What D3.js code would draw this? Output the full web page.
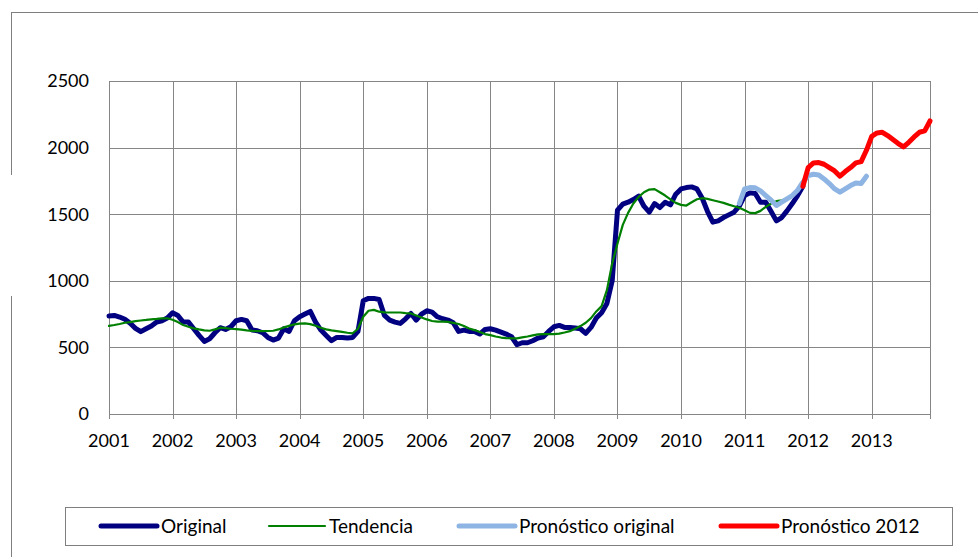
<!DOCTYPE html>
<html>
<head>
<meta charset="utf-8">
<script src="https://cdn.jsdelivr.net/npm/d3@7"></script>
<style>
  body { margin: 0; background: #fff; }
  svg text { font-family: Lato, "Liberation Sans", sans-serif; fill: #000; }
</style>
</head>
<body>
<script>
// year labels on the category axis (one every 12 months)
const years = ["2001", "2002", "2003", "2004", "2005", "2006", "2007", "2008", "2009", "2010", "2011", "2012", "2013"];
const yTicks = [0, 500, 1000, 1500, 2000, 2500];

// monthly values, Jan 2001 .. Dec 2011
const original = [
    736, 740, 728, 711, 681, 643, 618, 640, 660, 690, 700, 720,
    760, 740, 690, 690, 640, 590, 545, 565, 610, 648, 635, 655,
    700, 710, 700, 630, 625, 610, 575, 555, 570, 640, 620, 700,
    730, 750, 770, 690, 630, 590, 550, 575, 575, 570, 575, 620,
    850, 868, 868, 860, 740, 705, 690, 680, 715, 755, 705, 750,
    775, 765, 730, 715, 705, 685, 620, 630, 620, 620, 600, 635,
    640, 630, 615, 600, 580, 520, 535, 535, 550, 570, 580, 620,
    655, 665, 650, 650, 645, 640, 606, 650, 720, 760, 830, 1000,
    1530, 1575, 1590, 1610, 1635, 1560, 1515, 1580, 1550, 1590, 1570, 1650,
    1690, 1700, 1705, 1690, 1620, 1520, 1440, 1450, 1475, 1495, 1515, 1560,
    1640, 1660, 1655, 1590, 1590, 1520, 1450, 1475, 1525, 1580, 1640, 1710
];
const tendencia = [
    661, 668, 676, 685, 690, 697, 702, 706, 711, 714, 718, 719,
    708, 690, 668, 655, 643, 635, 628, 625, 635, 648, 645, 640,
    637, 633, 628, 624, 622, 622, 623, 625, 635, 650, 662, 673,
    678, 680, 675, 663, 648, 635, 628, 622, 616, 610, 606, 640,
    730, 775, 782, 768, 763, 762, 762, 762, 758, 755, 740, 725,
    710, 698, 693, 693, 692, 684, 676, 660, 642, 630, 615, 600,
    592, 582, 574, 570, 568, 568, 575, 582, 590, 598, 600, 600,
    600, 603, 612, 622, 640, 660, 685, 720, 770, 810, 930, 1130,
    1280, 1420, 1510, 1580, 1630, 1665, 1685, 1688, 1665, 1640, 1612, 1585,
    1570, 1565, 1590, 1612, 1620, 1615, 1605, 1595, 1585, 1572, 1560, 1548,
    1530, 1510, 1508, 1525, 1555, 1580, 1598, 1605, 1615, 1640, 1675, 1725
];
// Dec 2010 .. Dec 2012
const pronosticoOriginal = [
    1580, 1690, 1700, 1698, 1675, 1640, 1605, 1565, 1590, 1615, 1640, 1680,
    1740, 1790, 1800, 1795, 1765, 1730, 1690, 1665, 1690, 1715, 1735, 1730, 1785
];
// Dec 2011 .. Dec 2013
const pronostico2012 = [
    1710, 1850, 1885, 1888, 1875, 1850, 1825, 1785, 1820, 1850, 1885, 1895,
    1980, 2085, 2110, 2115, 2090, 2060, 2030, 2005, 2040, 2080, 2115, 2125, 2200
];

const months = [];
years.forEach(y => { for (let m = 1; m <= 12; m++) months.push(y + "-" + String(m).padStart(2, "0")); });

const series = [
    {name: "Original", values: original, start: 0, color: "#000080", width: 5},
    {name: "Tendencia", values: tendencia, start: 0, color: "#008000", width: 2.2},
    {name: "Pronóstico original", values: pronosticoOriginal, start: months.indexOf("2010-12"), color: "#8EB4E3", width: 5},
    {name: "Pronóstico 2012", values: pronostico2012, start: months.indexOf("2011-12"), color: "#FF0000", width: 5}
];

const width = 978, height = 557;
const plot = {left: 109, right: 930, top: 81, bottom: 414};

const svg = d3.select("body").append("svg")
    .attr("width", width)
    .attr("height", height);

const x = d3.scalePoint()
    .domain(months)
    .range([plot.left, plot.right]);

const y = d3.scaleLinear()
    .domain([0, 2500])
    .range([plot.bottom, plot.top]);

// chart frame (only top and left edges are in view)
svg.append("line").attr("x1", 11).attr("x2", width).attr("y1", 12.5).attr("y2", 12.5)
    .attr("stroke", "#7f7f7f");
svg.append("line").attr("x1", 11.5).attr("x2", 11.5).attr("y1", 12).attr("y2", 175)
    .attr("stroke", "#7f7f7f");
svg.append("line").attr("x1", 11.5).attr("x2", 11.5).attr("y1", 296).attr("y2", height)
    .attr("stroke", "#7f7f7f");

/////////////// grid //////////////////
const grid = svg.append("g").attr("stroke", "#868686").attr("stroke-width", 1);

grid.selectAll(".hgrid")
    .data(yTicks)
    .enter().append("line")
    .attr("x1", plot.left).attr("x2", plot.right)
    .attr("y1", d => Math.round(y(d)) + 0.5).attr("y2", d => Math.round(y(d)) + 0.5);

let yearPos = years.map(yr => x(yr + "-01"));
grid.selectAll(".vgrid")
    .data(yearPos.concat([plot.right]))
    .enter().append("line")
    .attr("x1", d => Math.round(d) + 0.5).attr("x2", d => Math.round(d) + 0.5)
    .attr("y1", plot.top).attr("y2", plot.bottom + 5);

/////////////// axes labels //////////////////
svg.append("g").selectAll("text")
    .data(yTicks)
    .enter().append("text")
    .attr("x", 89)
    .attr("y", d => y(d))
    .attr("dy", "0.35em")
    .attr("text-anchor", "end")
    .style("font-size", "18px")
    .text(d => d);

svg.append("g").selectAll("text")
    .data(years)
    .enter().append("text")
    .attr("x", d => x(d + "-01"))
    .attr("y", 441)
    .attr("dy", "0.35em")
    .attr("text-anchor", "middle")
    .style("font-size", "18px")
    .text(d => d);

/////////////// lines //////////////////
const line = d3.line()
    .x(d => x(months[d.i]))
    .y(d => y(d.v));

svg.append("g").selectAll("path")
    .data(series)
    .enter().append("path")
    .attr("fill", "none")
    .attr("stroke", d => d.color)
    .attr("stroke-width", d => d.width)
    .attr("stroke-linejoin", "round")
    .attr("stroke-linecap", "round")
    .attr("d", s => line(s.values.map((v, k) => ({i: s.start + k, v: v}))));

/////////////// legend //////////////////
const legend = svg.append("g");
legend.append("rect")
    .attr("x", 65.5).attr("y", 507.5)
    .attr("width", 887).attr("height", 38)
    .attr("fill", "#fff")
    .attr("stroke", "#7f7f7f");

const legendX = [101, 269, 459, 721];
const item = legend.selectAll(".item")
    .data(series)
    .enter().append("g")
    .attr("transform", (d, i) => "translate(" + legendX[i] + ",526)");

item.append("line")
    .attr("x1", 0).attr("x2", 56)
    .attr("stroke", d => d.color)
    .attr("stroke-width", d => d.width)
    .attr("stroke-linecap", "round");

item.append("text")
    .attr("x", 60)
    .attr("dy", "0.35em")
    .style("font-size", "19px")
    .text(d => d.name);
</script>
</body>
</html>
